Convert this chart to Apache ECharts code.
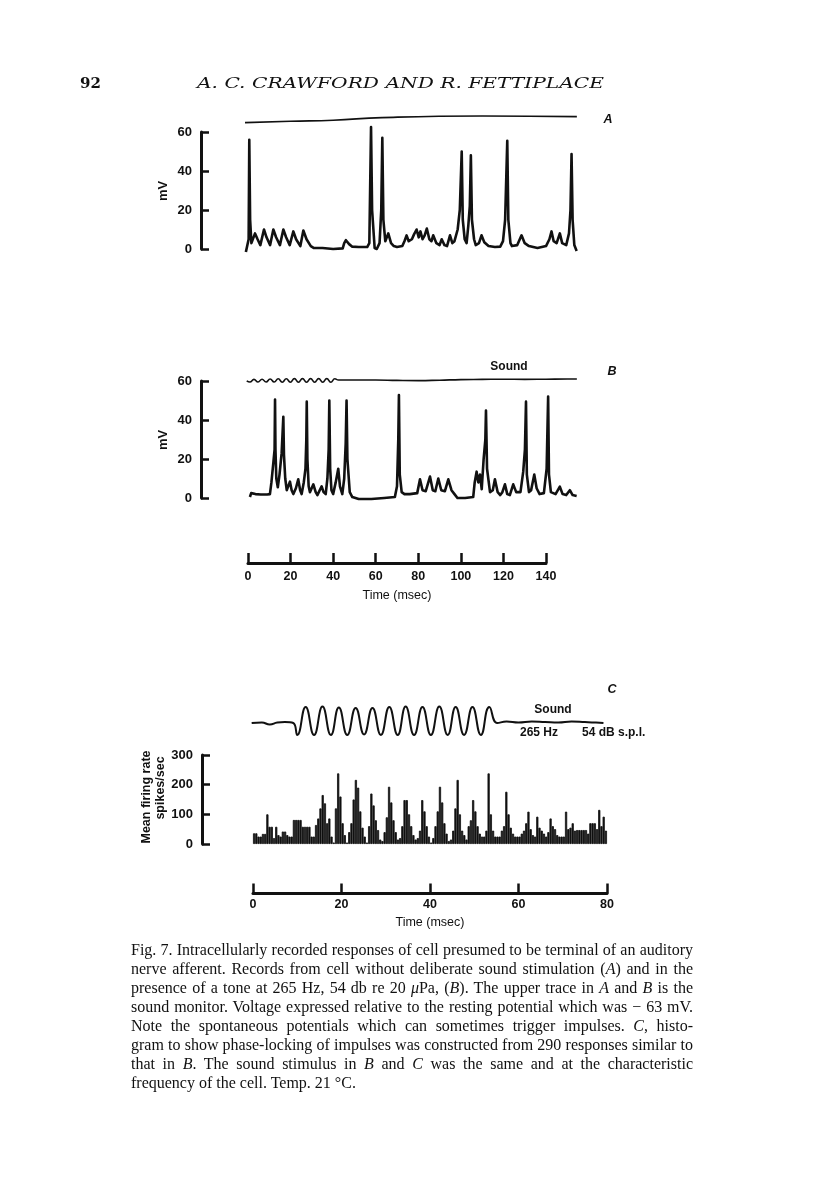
<!DOCTYPE html>
<html><head><meta charset="utf-8">
<script src="https://cdn.jsdelivr.net/npm/echarts/dist/echarts.min.js"></script>
<style>
html,body{margin:0;padding:0;background:#fff;}
#page{position:relative;width:816px;height:1183px;overflow:hidden;background:#fff;}
#chart{position:absolute;left:0;top:0;width:816px;height:1183px;}
.hdr{position:absolute;font-family:"DejaVu Serif","Liberation Serif",serif;color:#111;white-space:nowrap;}
#cap{position:absolute;left:131px;top:940px;width:562px;font-family:"Liberation Serif","DejaVu Serif",serif;font-size:16px;line-height:19px;color:#111;}
#cap div{white-space:nowrap;text-align:justify;text-align-last:justify;}
#cap div.last{text-align-last:left;}
</style></head>
<body><div id="page">
<div id="chart"></div>
<div class="hdr" id="pg" style="left:80px;top:74px;font-size:15px;font-weight:bold;">92</div>
<div class="hdr" id="ttl" style="left:197px;top:74px;font-size:15px;font-style:italic;transform-origin:0 0;">A. C. CRAWFORD AND R. FETTIPLACE</div>
<div id="cap">
<div>Fig. 7. Intracellularly recorded responses of cell presumed to be terminal of an auditory</div>
<div>nerve afferent. Records from cell without deliberate sound stimulation (<i>A</i>) and in the</div>
<div>presence of a tone at 265 Hz, 54 db re 20 <i>μ</i>Pa, (<i>B</i>). The upper trace in <i>A</i> and <i>B</i> is the</div>
<div>sound monitor. Voltage expressed relative to the resting potential which was &minus; 63 mV.</div>
<div>Note the spontaneous potentials which can sometimes trigger impulses. <i>C</i>, histo-</div>
<div>gram to show phase-locking of impulses was constructed from 290 responses similar to</div>
<div>that in <i>B</i>. The sound stimulus in <i>B</i> and <i>C</i> was the same and at the characteristic</div>
<div class="last">frequency of the cell. Temp. 21 °C.</div>
</div>
</div>
<script>
// ---------- DATA ----------
// Panel A: membrane potential (mV) vs time (msec)
const TRACE_A_T = [-1.0,0.3,0.6,1.0,1.6,2.2,3.3,4.5,5.8,6.4,7.5,8.7,10.4,11.0,11.9,13.2,15.0,15.6,16.6,17.9,19.6,20.2,21.3,22.6,24.6,25.0,26.0,27.5,29.5,31,35,40,44.5,45.2,46.0,47.5,49,52,56.0,57.0,57.8,58.3,59.5,60.5,61.8,62.6,63.1,63.6,64.5,65.9,67.2,68.5,70,72.5,73.5,74.5,75.5,77.0,78,79.2,80.2,81.0,82.0,83.0,84.0,85.2,86.2,87.0,88.5,90.0,91.0,92.3,93.5,94.9,96.0,97,98.5,99.5,100.4,100.9,101.8,102.7,103.5,104.2,104.7,105.2,106.2,107.0,108.5,109.7,111.0,113,116,118.5,119.8,120.8,121.8,122.3,123.3,124.0,126.5,128.5,130,132,136,140,141.6,142.6,143.6,145.0,146.5,147.6,149.5,150.8,151.5,152.0,152.5,153.3,154.4];
const TRACE_A_MV = [-1.5,5,56,15,3,2,8,5,2,1.5,10,6,2,1.5,10,6,2,1.5,10,6,2,1.5,9,5,1.5,1,9.5,5,1.5,0.5,0.5,0,0.3,3,4.5,2.5,1.2,1,1,3,62.5,20,0.5,0,3,20,57,15,4,8,3,1.5,1,1.5,4,7,4,5,7.5,10,6,9,5,7,10.5,5,4,7,3,2,5,2,1.5,7,3,4,10,20,50,15,5,3,12,22,48,15,5,2,3,7,3.5,1.5,1,1.2,4,15,55.5,15,3,1.5,2,7,3,1.5,0.5,1.5,5,9,4,3,8,3,2,8,20,48.7,15,2,-1];
// Panel B
const TRACE_B_T = [0.9,1.5,2.2,3.5,6,9,10.3,11.0,11.9,12.5,12.7,12.9,13.3,14.0,14.8,15.8,16.6,16.9,17.5,18.2,19.0,19.7,20.5,21.3,22.5,23.6,24.5,25.2,26.2,27.0,27.4,27.6,27.9,28.5,29.1,30.7,31.8,32.6,34.6,35.5,36.5,37.3,37.9,38.2,38.6,39.2,40.0,41.2,42.4,43.2,44.3,45.2,45.9,46.3,46.7,47.8,49,52,58,64,69,70.0,70.6,70.9,71.3,72.2,73.5,76,79.5,80.8,82.0,83.5,85.5,86.8,88,89.4,90.8,92.5,94.1,95.6,97,98.4,102,105.8,106.5,107.4,108.2,109.0,109.8,110.7,111.5,111.8,112.3,113.7,115,116.0,117.3,118.5,119.5,120.7,121.8,123,124.6,126,128,129.3,130.1,130.6,131.0,132.0,133.0,134.5,135.6,137,139,140.3,141.0,141.4,142.3,144.5,146.5,147.8,149.5,151.2,152.5,154.4];
const TRACE_B_MV = [0.5,2.5,3.2,2,1.8,1.8,2,8,18,25,50.5,25,10,5.5,12,23,41.7,22,10,4,4,8.4,4,2,5,9.6,4,2,8,15,30,49.4,20,6,3,7,3,1.5,6,3,2,10,25,50,15,4,2,8,15,6,2,10,28,50,20,3,0.5,-0.5,-0.5,0,0.5,6,30,52.8,12,3,2,2,2.5,9.6,4,3.5,11,4,3.5,10,4,3.5,9.6,4,2,0,0,0.5,8,13.5,8,12,4.5,20,30,44.8,15,3,4,9.6,3,1.5,3,7,2,1.5,7,3,3,13.5,25,49.4,12,3,4,12,5,2,2.5,15,52,12,3,2,5.8,2,1.5,4,1.5,1];
// Sound monitor traces (arbitrary units)
const SOUND_A_T = [-1.4,20,40,63,110,154.5];
const SOUND_A_V = [3.7,4.4,4.9,6.2,7.0,6.7];
const SOUND_B_T = [-0.6,0.9,2.8,4.7,6.6,8.5,10.4,12.3,14.2,16.1,18.0,19.9,21.8,23.7,25.6,27.5,29.4,31.3,33.2,35.1,37.0,38.9,40.8,42.5,50,60,70,80,90,100,110,120,130,140,150,154.5];
const SOUND_B_V = [4.6,4.0,5.3,4.0,5.4,4.0,5.5,4.0,5.6,3.9,5.6,3.9,5.7,3.9,5.7,3.9,5.7,3.9,5.7,3.9,5.7,3.9,5.6,5.0,5.0,5.0,4.8,4.7,4.9,5.2,5.3,5.4,5.3,5.4,5.5,5.5];
const SOUND_C_T = [-0.3,2,3.8,5.5,7.2,9.1,10.0,11.9,13.8,15.7,17.6,19.4,21.3,23.2,25.1,27.0,28.9,30.8,32.7,34.5,36.4,38.3,40.2,42.1,44.0,45.8,47.7,49.6,51.5,53.4,55.2,57.3,60,63,66,69,72,75,77.5,79.2];
const SOUND_C_V = [0,0.5,-1.5,0.5,1,0,-12,16,-12,16.5,-12,15.5,-12,15,-11.5,15,-12,16,-12,16.5,-12,16,-12,16.5,-12,16,-12,16,-12,16,0,1.5,0.5,1.5,1,0.5,1.5,1,0.5,0];
// Panel C histogram: mean firing rate (spikes/sec), 0.5 msec bins from 0 to 80 msec
const HIST_C = [36,36,25,25,34,34,100,58,58,20,58,30,25,42,42,30,25,25,81,81,81,81,58,58,58,58,25,25,64,86,120,165,137,70,86,25,5,120,238,160,70,30,5,40,70,150,216,190,110,55,25,5,60,170,130,80,47,15,10,40,90,193,140,80,40,15,20,60,148,148,100,60,30,15,20,45,148,110,60,25,5,20,60,110,193,140,70,35,10,15,45,120,216,100,45,30,15,60,80,148,110,60,35,25,25,45,238,100,45,25,25,25,45,60,176,100,55,35,25,25,25,35,45,70,109,50,30,25,92,55,45,35,25,40,86,60,50,30,25,25,25,109,50,55,70,45,47,47,47,47,47,35,70,70,70,50,115,60,92,45];
const HIST_BIN = 0.5;
const MV_RANGE = [0, 60], MV_STEP = 20;
const RATE_RANGE = [0, 300], RATE_STEP = 100;
const TIME_B_RANGE = [0, 140], TIME_C_RANGE = [0, 80], TIME_STEP = 20;

// ---------- CHART ----------
const pairs = (t, v) => t.map((x, i) => [x, v[i]]);
const binLabels = HIST_C.map((_, i) => (i * HIST_BIN).toFixed(1));
const SANS = '"Liberation Sans", Arial, sans-serif';
const K = '#111';

const pxPerMsAB = 2.1286;
const tMinAB = -4, tMaxAB = 160;
const leftAB = 248 + tMinAB * pxPerMsAB;
const widthAB = (tMaxAB - tMinAB) * pxPerMsAB;
const pxPerMsC = 4.425;
const leftCs = 253 - 2 * pxPerMsC, widthCs = 84 * pxPerMsC;

const hiddenX = (g, min, max) => ({type:'value', gridIndex:g, min, max, show:false});
const hiddenY = (g, min, max) => ({type:'value', gridIndex:g, min, max, show:false});
const bracketY = (g, range, step, offset) => ({
  type:'value', gridIndex:g, min:range[0], max:range[1], interval:step, offset,
  axisLine:{show:true, onZero:false, lineStyle:{color:K, width:3}},
  axisTick:{show:true, inside:true, length:8, lineStyle:{color:K, width:2.5}},
  axisLabel:{color:K, fontFamily:SANS, fontWeight:'bold', fontSize:13, margin:9},
  splitLine:{show:false}
});
const timeX = (g, range, nameGap, margin) => ({
  type:'value', gridIndex:g, min:range[0], max:range[1], interval:TIME_STEP, position:'bottom',
  axisLine:{show:true, onZero:false, lineStyle:{color:K, width:3}},
  axisTick:{show:true, inside:true, length:10, lineStyle:{color:K, width:2.5}},
  axisLabel:{color:K, fontFamily:SANS, fontWeight:'bold', fontSize:12.5, margin},
  splitLine:{show:false},
  name:'Time (msec)', nameLocation:'middle', nameGap,
  nameTextStyle:{color:K, fontFamily:SANS, fontSize:12.5}
});
const txt = (x, y, text, font, extra) => Object.assign({type:'text', x, y, style:{text, font, fill:K, align:'center', verticalAlign:'middle', textAlign:'center', textVerticalAlign:'middle'}}, extra || {});

const option = {
  animation:false,
  backgroundColor:'#fff',
  grid:[
    {left:leftAB, top:110, width:widthAB, height:20},
    {left:leftAB, top:132, width:widthAB, height:117},
    {left:leftAB, top:370, width:widthAB, height:20},
    {left:leftAB, top:381, width:widthAB, height:117},
    {left:248, top:540, width:298, height:23},
    {left:leftCs, top:700, width:widthCs, height:40},
    {left:253, top:755, width:354, height:89},
    {left:253, top:870, width:354, height:23.5}
  ],
  xAxis:[
    hiddenX(0, tMinAB, tMaxAB), hiddenX(1, tMinAB, tMaxAB), hiddenX(2, tMinAB, tMaxAB), hiddenX(3, tMinAB, tMaxAB),
    timeX(4, TIME_B_RANGE, 26, 7),
    hiddenX(5, -2, 82),
    {type:'category', gridIndex:6, data:binLabels, show:false, boundaryGap:true},
    timeX(7, TIME_C_RANGE, 23, 5)
  ],
  yAxis:[
    hiddenY(0, 0, 10),
    bracketY(1, MV_RANGE, MV_STEP, leftAB - 201),
    hiddenY(2, 0, 10),
    bracketY(3, MV_RANGE, MV_STEP, leftAB - 201),
    hiddenY(4, 0, 1),
    hiddenY(5, -17, 23),
    bracketY(6, RATE_RANGE, RATE_STEP, 253 - 202),
    hiddenY(7, 0, 1)
  ],
  series:[
    {type:'line', xAxisIndex:0, yAxisIndex:0, data:pairs(SOUND_A_T, SOUND_A_V), symbol:'none', smooth:true, lineStyle:{color:K, width:1.6}},
    {type:'line', xAxisIndex:1, yAxisIndex:1, data:pairs(TRACE_A_T, TRACE_A_MV), symbol:'none', clip:false, lineStyle:{color:K, width:2.6, join:'round'}},
    {type:'line', xAxisIndex:2, yAxisIndex:2, data:pairs(SOUND_B_T, SOUND_B_V), symbol:'none', smooth:true, lineStyle:{color:K, width:1.6}},
    {type:'line', xAxisIndex:3, yAxisIndex:3, data:pairs(TRACE_B_T, TRACE_B_MV), symbol:'none', clip:false, lineStyle:{color:K, width:2.6, join:'round'}},
    {type:'line', xAxisIndex:5, yAxisIndex:5, data:pairs(SOUND_C_T, SOUND_C_V), symbol:'none', smooth:true, lineStyle:{color:K, width:2}},
    {type:'bar', xAxisIndex:6, yAxisIndex:6, data:HIST_C, barCategoryGap:'0%', barWidth:'100%', itemStyle:{color:K, borderColor:K, borderWidth:0.8}}
  ],
  graphic:[
    txt(163, 191, 'mV', 'bold 13px '+SANS, {rotation:Math.PI/2}),
    txt(163, 440, 'mV', 'bold 13px '+SANS, {rotation:Math.PI/2}),
    txt(147, 797, 'Mean firing rate', 'bold 12.5px '+SANS, {rotation:Math.PI/2}),
    txt(161, 788, 'spikes/sec', 'bold 12.5px '+SANS, {rotation:Math.PI/2}),
    txt(509, 367, 'Sound', 'bold 12px '+SANS),
    txt(553, 710, 'Sound', 'bold 12px '+SANS),
    txt(539, 733, '265 Hz', 'bold 12px '+SANS),
    {type:'text', x:582, y:733, style:{text:'54 dB s.p.l.', font:'bold 12px '+SANS, fill:K, align:'left', verticalAlign:'middle', textAlign:'left', textVerticalAlign:'middle'}},
    txt(608, 120, 'A', 'italic bold 12.5px '+SANS),
    txt(612, 372, 'B', 'italic bold 12.5px '+SANS),
    txt(612, 690, 'C', 'italic bold 12.5px '+SANS)
  ]
};
const chart = echarts.init(document.getElementById('chart'), null, {renderer:'canvas'});
chart.setOption(option);

// fit running title to its printed width
const ttl = document.getElementById('ttl');
const w = ttl.getBoundingClientRect().width;
ttl.style.transform = 'scaleX(' + (407 / w) + ')';
// one common caption size: the largest at which every line fits the measure
const cap = document.getElementById('cap');
const lines = Array.from(cap.querySelectorAll('div'));
let fs = 16;
const fits = () => lines.every(d => { d.style.textAlignLast = 'left'; const r = d.scrollWidth <= 562; d.style.textAlignLast = ''; return r; });
while (!fits() && fs > 10) { fs -= 0.25; cap.style.fontSize = fs + 'px'; }
</script>
</body></html>
